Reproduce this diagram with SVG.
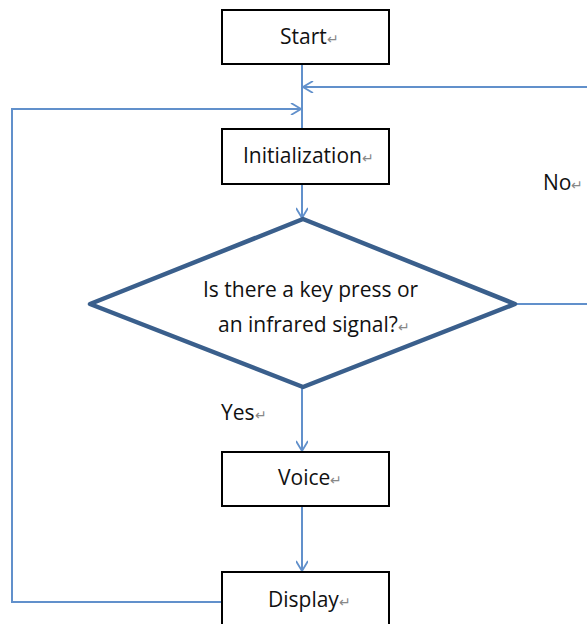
<svg xmlns="http://www.w3.org/2000/svg" width="587" height="624" viewBox="0 0 587 624">
<defs>
<style>
.box{fill:#fff;stroke:#000;stroke-width:2}
.dia{fill:#fff;stroke:#3a5f8c;stroke-width:4.5;stroke-linejoin:round}
.conn{fill:none;stroke:#6190cb;stroke-width:2}
.t{font-family:"Open Sans","Liberation Sans",sans-serif;font-size:21px;fill:#111}
.pm{fill:#888;font-size:14px}
</style>
<marker id="arr" viewBox="0 0 12 12" refX="11" refY="6" markerWidth="12" markerHeight="12" markerUnits="userSpaceOnUse" orient="auto">
<path d="M1,0 L11,6 L1,12" fill="none" stroke="#6190cb" stroke-width="1.8"/>
</marker>
</defs>
<rect width="587" height="624" fill="#fff"/>
<g id="connectors">
<path class="conn" d="M302,64 V129"/>
<path class="conn" d="M302,184 V218" marker-end="url(#arr)"/>
<path class="conn" d="M302,388 V451" marker-end="url(#arr)"/>
<path class="conn" d="M302,506 V571" marker-end="url(#arr)"/>
<path class="conn" d="M515,304 H600 V87 H303" marker-end="url(#arr)"/>
<path class="conn" d="M222,602 H12 V109 H301" marker-end="url(#arr)"/>
</g>
<g id="start">
<rect class="box" x="222" y="10" width="167" height="54"/>
<text class="t" x="280" y="44">Start<tspan class="pm">↵</tspan></text>
</g>
<g id="init">
<rect class="box" x="222" y="129" width="167" height="55"/>
<text class="t" x="243" y="163">Initialization<tspan class="pm">↵</tspan></text>
</g>
<g id="decision">
<polygon class="dia" points="303,219 515,304 303,387 90,304"/>
<text class="t" x="203" y="297">Is there a key press or</text>
<text class="t" x="218" y="332">an infrared signal?<tspan class="pm">↵</tspan></text>
</g>
<g id="voice">
<rect class="box" x="222" y="452" width="167" height="54"/>
<text class="t" x="278" y="485">Voice<tspan class="pm">↵</tspan></text>
</g>
<g id="display">
<rect class="box" x="222" y="572" width="167" height="60"/>
<text class="t" x="268" y="607">Display<tspan class="pm">↵</tspan></text>
</g>
<g id="labels">
<text class="t" x="543" y="190">No<tspan class="pm">↵</tspan></text>
<text class="t" x="221" y="420">Yes<tspan class="pm">↵</tspan></text>
</g>
</svg>
